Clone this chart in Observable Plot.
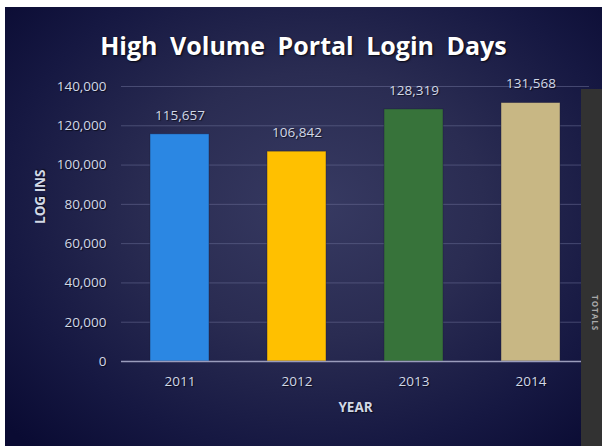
<!DOCTYPE html>
<html>
<head>
<meta charset="utf-8">
<script src="https://cdn.jsdelivr.net/npm/d3@7"></script>
<script src="https://cdn.jsdelivr.net/npm/@observablehq/plot@0.6"></script>
<style>
  html, body { margin: 0; padding: 0; background: #ffffff; width: 602px; height: 446px; overflow: hidden; }
  #frame {
    position: absolute; left: 5px; top: 7px; width: 597px; height: 439px; overflow: hidden;
    background: radial-gradient(ellipse 70% 75% at 52% 45%, #373a62 0%, #2a2c52 40%, #161842 75%, #0a0b33 100%);
    font-family: "Open Sans", sans-serif;
  }
  #title {
    height: 65px; line-height: 76px; text-align: center; color: #ffffff;
    font-family: "Open Sans", sans-serif; font-weight: bold; font-size: 25px; word-spacing: 6px;
    text-shadow: 1px 1px 2px rgba(0,0,0,0.8);
  }
  #panel {
    position: absolute; left: 576px; top: 82px; width: 40px; height: 370px; background: #323232;
  }
  #panel span {
    position: absolute; left: 19px; top: 206px; transform: rotate(90deg); transform-origin: left top;
    color: #a8a8a8; font-size: 8px; font-weight: bold; font-family: "Open Sans", sans-serif; letter-spacing: 1px;
    line-height: 10px;
  }
  svg text { text-shadow: 1px 1px 1px rgba(0,0,0,0.6); }
</style>
</head>
<body>
<div id="frame">
  <div id="title">High Volume Portal Login Days</div>
  <div id="chart"></div>
  <div id="panel"><span>TOTALS</span></div>
</div>
<script>
const years = ["2011", "2012", "2013", "2014"];
const logins = [115657, 106842, 128319, 131568];
const barColors = ["#2b87e3", "#ffc000", "#37733a", "#c8b784"];
const yTicks = [0, 20000, 40000, 60000, 80000, 100000, 120000, 140000];
const xLabel = "YEAR";
const yLabel = "LOG INS";

const data = years.map((y, i) => ({year: y, value: logins[i], color: barColors[i]}));
const fmt = d3.format(",");

const chart = Plot.plot({
  width: 597,
  height: 374,
  marginTop: 14,
  marginBottom: 85,
  marginLeft: 116,
  marginRight: 13,
  style: {background: "transparent", color: "#d2d8e6", fontFamily: "'Open Sans', sans-serif", fontSize: "13.5px", overflow: "visible"},
  x: {domain: years, paddingInner: 0.5, paddingOuter: 0.25, label: null},
  y: {domain: [0, 140000], label: null},
  marks: [
    Plot.gridY(yTicks, {stroke: "#6a6d96", strokeOpacity: 0.55, strokeWidth: 1}),
    Plot.barY(data, {x: "year", y: "value", fill: "color", stroke: "#1a1a3a", strokeOpacity: 0.5, strokeWidth: 0.8}),
    Plot.ruleY([0], {stroke: "#9a9cbc", strokeWidth: 1.5}),
    Plot.axisY(yTicks, {tickSize: 0, tickPadding: 15, tickFormat: fmt, label: null, fill: "#d2d8e6", fontSize: 13.5}),
    Plot.axisX({tickSize: 0, tickPadding: 15, label: null, fill: "#d2d8e6", fontSize: 13.5}),
    Plot.text(data, {x: "year", y: "value", text: d => fmt(d.value), dy: -19, fill: "#d2d8e6", fontSize: 13.5}),
    Plot.text([xLabel], {frameAnchor: "bottom", dy: 50, fill: "#d2d8e6", fontWeight: "bold", fontSize: 13.5}),
    Plot.text([yLabel], {frameAnchor: "left", dx: -81, rotate: -90, fill: "#d2d8e6", fontWeight: "bold", fontSize: 13.5})
  ]
});
document.getElementById("chart").appendChild(chart);
</script>
</body>
</html>
